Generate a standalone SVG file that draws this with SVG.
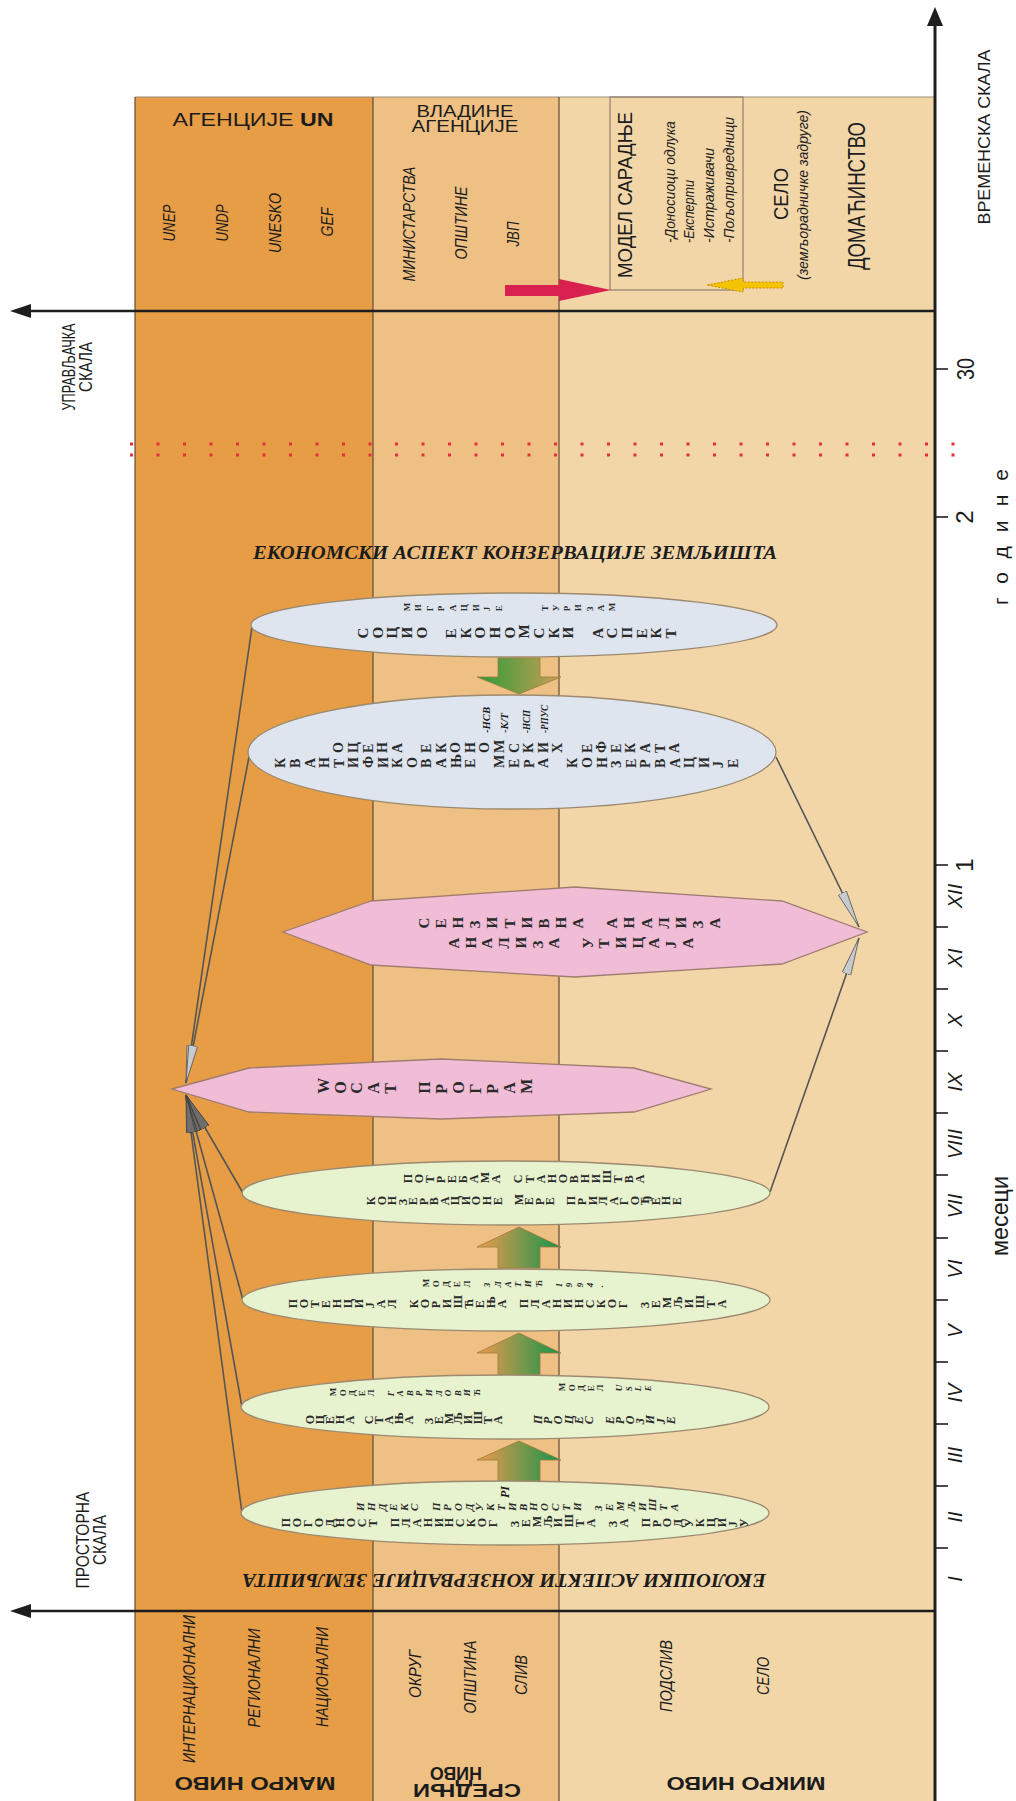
<svg xmlns="http://www.w3.org/2000/svg" width="1016" height="1801" viewBox="0 0 1016 1801">
<defs>
<style>
.s{font-family:"Liberation Sans",Arial,sans-serif;fill:#1c1c1c}
.i{font-style:italic}
.b{font-weight:bold}
.m{text-anchor:middle;dominant-baseline:central}
.st{text-anchor:start;dominant-baseline:central}
.sr{font-family:"Liberation Serif","Times New Roman",serif;fill:#1c1c1c}
.v{font-family:"Liberation Serif","Times New Roman",serif;font-weight:bold;fill:#2a2a2a}
.tk{stroke:#1e1e1e;stroke-width:1.6}
.bl{stroke:#5e4c38;stroke-width:1.2}
.eb{fill:#DEE5EE;stroke:#9C8A70;stroke-width:1.3}
.eg{fill:#E7F2CF;stroke:#9C8A70;stroke-width:1.3}
.pk{fill:#F1BDD6;stroke:#A07C70;stroke-width:1.3}
.con{stroke:#555;stroke-width:1.6;fill:none}
.rd{stroke:#E3303C;stroke-width:3;stroke-dasharray:3 23.5}
.up{fill:url(#gUp);stroke:#A07A3C;stroke-width:0.8}
.dn{fill:url(#gDn);stroke:#A07A3C;stroke-width:0.8}
</style>
<linearGradient id="gUp" x1="0" y1="0" x2="1" y2="0">
<stop offset="0" stop-color="#F09A4E"/><stop offset="1" stop-color="#12954A"/>
</linearGradient>
<linearGradient id="gDn" x1="0" y1="0" x2="1" y2="0">
<stop offset="0" stop-color="#2C9A3A"/><stop offset="1" stop-color="#C9A052"/>
</linearGradient>
<marker id="ahL" markerUnits="userSpaceOnUse" markerWidth="40" markerHeight="12" refX="38" refY="6" orient="auto">
<path d="M0,1.5 L38,6 L0,10.5 Z" fill="#C8CBCD" stroke="#5a5a5a" stroke-width="0.8"/>
</marker>
<marker id="ahD" markerUnits="userSpaceOnUse" markerWidth="40" markerHeight="12" refX="38" refY="6" orient="auto">
<path d="M0,1.5 L38,6 L0,10.5 Z" fill="#6e6e6e" stroke="#3c3c3c" stroke-width="0.8"/>
</marker>
</defs>

<rect width="1016" height="1801" fill="#ffffff"/>

<!-- level bands -->
<g id="bands">
<rect x="135" y="97" width="238" height="1704" fill="#E79D46"/>
<rect x="373" y="97" width="186" height="1704" fill="#EEC083"/>
<rect x="559" y="97" width="376" height="1704" fill="#F2D6A8"/>
<line x1="135" y1="97" x2="935" y2="97" stroke="#9a8a78" stroke-width="1"/>
<line x1="135" y1="97" x2="135" y2="1801" class="bl"/>
<line x1="373" y1="97" x2="373" y2="1801" class="bl"/>
<line x1="559" y1="97" x2="559" y2="1801" class="bl"/>
</g>

<!-- header labels -->
<g id="headers">
<text class="s" x="253" y="126" font-size="18" text-anchor="middle" textLength="161" lengthAdjust="spacingAndGlyphs">АГЕНЦИЈЕ <tspan class="b">UN</tspan></text>
<text class="s" x="465" y="117" font-size="16" text-anchor="middle" textLength="97" lengthAdjust="spacingAndGlyphs">ВЛАДИНЕ</text>
<text class="s" x="465" y="132" font-size="16" text-anchor="middle" textLength="107" lengthAdjust="spacingAndGlyphs">АГЕНЦИЈЕ</text>
<g class="s i" font-size="16">
<text class="m" transform="translate(169,223) rotate(-90)" textLength="37" lengthAdjust="spacingAndGlyphs">UNEP</text>
<text class="m" transform="translate(222,223) rotate(-90)" textLength="37" lengthAdjust="spacingAndGlyphs">UNDP</text>
<text class="m" transform="translate(275,223) rotate(-90)" textLength="60" lengthAdjust="spacingAndGlyphs">UNESKO</text>
<text class="m" transform="translate(327,222) rotate(-90)" textLength="29" lengthAdjust="spacingAndGlyphs">GEF</text>
<text class="m" transform="translate(409,224) rotate(-90)" textLength="115" lengthAdjust="spacingAndGlyphs">МИНИСТАРСТВА</text>
<text class="m" transform="translate(461,223) rotate(-90)" textLength="73" lengthAdjust="spacingAndGlyphs">ОПШТИНЕ</text>
<text class="m" transform="translate(513,234) rotate(-90)" textLength="25" lengthAdjust="spacingAndGlyphs">ЈВП</text>
</g>
</g>

<!-- cooperation model box -->
<g id="model">
<rect x="610" y="97" width="133" height="193" fill="none" stroke="#8f8372" stroke-width="1.2"/>
<text class="s m" font-size="21" transform="translate(624.5,195) rotate(-90)" textLength="166" lengthAdjust="spacingAndGlyphs">МОДЕЛ САРАДЊЕ</text>
<g class="s i" font-size="14">
<text class="st" transform="translate(670,243) rotate(-90)" textLength="122" lengthAdjust="spacingAndGlyphs">-Доносиоци одлука</text>
<text class="st" transform="translate(689,243) rotate(-90)" textLength="63" lengthAdjust="spacingAndGlyphs">-Експерти</text>
<text class="st" transform="translate(709,243) rotate(-90)" textLength="95" lengthAdjust="spacingAndGlyphs">-Истраживачи</text>
<text class="st" transform="translate(729,243) rotate(-90)" textLength="126" lengthAdjust="spacingAndGlyphs">-Пољопривредници</text>
</g>
<polygon points="505,285 559,285 559,279 611,290 559,301 559,296 505,296" fill="#D8214E"/>
<polygon points="707,285 743,278 743,282 783,282 783,288 743,288 743,292" fill="#F5C400" stroke="#C98E00" stroke-width="1" stroke-dasharray="2 1.5"/>
</g>

<g id="village">
<text class="s m" font-size="21" transform="translate(780,194) rotate(-90)" textLength="52" lengthAdjust="spacingAndGlyphs">СЕЛО</text>
<text class="s i m" font-size="14" transform="translate(803,195) rotate(-90)" textLength="170" lengthAdjust="spacingAndGlyphs">(земљорадничке задруге)</text>
</g>
<g id="household">
<text class="s m" font-size="24" transform="translate(856,196) rotate(-90)" textLength="148" lengthAdjust="spacingAndGlyphs">ДОМАЋИНСТВО</text>
</g>

<!-- scales -->
<g id="axes">
<line x1="28" y1="311" x2="935" y2="311" stroke="#1e1e1e" stroke-width="2.6"/>
<polygon points="10,311 31,304 31,318" fill="#1e1e1e"/>
<line x1="28" y1="1611" x2="935" y2="1611" stroke="#1e1e1e" stroke-width="2.6"/>
<polygon points="10,1611 31,1604 31,1618" fill="#1e1e1e"/>
<line x1="935" y1="1801" x2="935" y2="24" stroke="#1e1e1e" stroke-width="3"/>
<polygon points="935,7 927,26 943,26" fill="#1e1e1e"/>
<line x1="130" y1="444" x2="962" y2="444" class="rd"/>
<line x1="130" y1="455" x2="962" y2="455" class="rd"/>
<g>
<line x1="935" y1="369" x2="948" y2="369" class="tk"/>
<line x1="935" y1="517" x2="948" y2="517" class="tk"/>
<line x1="935" y1="865" x2="948" y2="865" class="tk"/>
<line x1="935" y1="927" x2="948" y2="927" class="tk"/>
<line x1="935" y1="989" x2="948" y2="989" class="tk"/>
<line x1="935" y1="1051" x2="948" y2="1051" class="tk"/>
<line x1="935" y1="1113" x2="948" y2="1113" class="tk"/>
<line x1="935" y1="1175" x2="948" y2="1175" class="tk"/>
<line x1="935" y1="1238" x2="948" y2="1238" class="tk"/>
<line x1="935" y1="1300" x2="948" y2="1300" class="tk"/>
<line x1="935" y1="1362" x2="948" y2="1362" class="tk"/>
<line x1="935" y1="1424" x2="948" y2="1424" class="tk"/>
<line x1="935" y1="1486" x2="948" y2="1486" class="tk"/>
<line x1="935" y1="1548" x2="948" y2="1548" class="tk"/>
</g>
<g class="s" font-size="24">
<text class="m" transform="translate(965,369) rotate(-90)" textLength="22" lengthAdjust="spacingAndGlyphs">30</text>
<text class="m" transform="translate(964,517) rotate(-90)">2</text>
<text class="m" transform="translate(964,865) rotate(-90)">1</text>
</g>
<g class="s i" font-size="20">
<text class="m" transform="translate(955,896) rotate(-90)">XII</text>
<text class="m" transform="translate(955,958) rotate(-90)">XI</text>
<text class="m" transform="translate(955,1020) rotate(-90)">X</text>
<text class="m" transform="translate(955,1082) rotate(-90)">IX</text>
<text class="m" transform="translate(955,1144) rotate(-90)">VIII</text>
<text class="m" transform="translate(955,1206) rotate(-90)">VII</text>
<text class="m" transform="translate(955,1269) rotate(-90)">VI</text>
<text class="m" transform="translate(955,1331) rotate(-90)">V</text>
<text class="m" transform="translate(955,1393) rotate(-90)">IV</text>
<text class="m" transform="translate(955,1455) rotate(-90)">III</text>
<text class="m" transform="translate(955,1517) rotate(-90)">II</text>
<text class="m" transform="translate(955,1579) rotate(-90)">I</text>
</g>
<text class="s m" font-size="17" transform="translate(984,137) rotate(-90)" textLength="175" lengthAdjust="spacingAndGlyphs">ВРЕМЕНСКА СКАЛА</text>
<text class="s m" font-size="21" transform="translate(1000,537) rotate(-90)" textLength="136" lengthAdjust="spacing">године</text>
<text class="s m" font-size="23" transform="translate(1000,1216) rotate(-90)" textLength="80" lengthAdjust="spacingAndGlyphs">месеци</text>
<g class="s" font-size="19">
<text class="m" transform="translate(68,367) rotate(-90)" textLength="87" lengthAdjust="spacingAndGlyphs">УПРАВЉАЧКА</text>
<text class="m" transform="translate(85,367) rotate(-90)" textLength="50" lengthAdjust="spacingAndGlyphs">СКАЛА</text>
<text class="m" transform="translate(82,1540) rotate(-90)" textLength="97" lengthAdjust="spacingAndGlyphs">ПРОСТОРНА</text>
<text class="m" transform="translate(99,1540) rotate(-90)" textLength="50" lengthAdjust="spacingAndGlyphs">СКАЛА</text>
</g>
</g>

<!-- spatial levels -->
<g id="levels">
<g class="s i" font-size="16">
<text class="m" transform="translate(189,1689) rotate(-90)" textLength="148" lengthAdjust="spacingAndGlyphs">ИНТЕРНАЦИОНАЛНИ</text>
<text class="m" transform="translate(254,1678) rotate(-90)" textLength="99" lengthAdjust="spacingAndGlyphs">РЕГИОНАЛНИ</text>
<text class="m" transform="translate(322,1677) rotate(-90)" textLength="100" lengthAdjust="spacingAndGlyphs">НАЦИОНАЛНИ</text>
<text class="m" transform="translate(415,1674) rotate(-90)" textLength="48" lengthAdjust="spacingAndGlyphs">ОКРУГ</text>
<text class="m" transform="translate(470,1677) rotate(-90)" textLength="73" lengthAdjust="spacingAndGlyphs">ОПШТИНА</text>
<text class="m" transform="translate(521,1675) rotate(-90)" textLength="40" lengthAdjust="spacingAndGlyphs">СЛИВ</text>
<text class="m" transform="translate(666,1676) rotate(-90)" textLength="72" lengthAdjust="spacingAndGlyphs">ПОДСЛИВ</text>
<text class="m" transform="translate(763,1676) rotate(-90)" textLength="38" lengthAdjust="spacingAndGlyphs">СЕЛО</text>
</g>
<g class="s b" font-size="19">
<text class="m" transform="translate(255,1783) rotate(180)" textLength="161" lengthAdjust="spacingAndGlyphs">МАКРО НИВО</text>
<text class="m" transform="translate(467,1790) rotate(180)" textLength="108" lengthAdjust="spacingAndGlyphs">СРЕДЊИ</text>
<text class="m" transform="translate(456,1773) rotate(180)" textLength="52" lengthAdjust="spacingAndGlyphs">НИВО</text>
<text class="m" transform="translate(746,1783) rotate(180)" textLength="159" lengthAdjust="spacingAndGlyphs">МИКРО НИВО</text>
</g>
</g>

<!-- aspect titles -->
<text class="sr b i" x="515" y="559" font-size="18" text-anchor="middle" textLength="524" lengthAdjust="spacingAndGlyphs">ЕКОНОМСКИ АСПЕКТ КОНЗЕРВАЦИЈЕ ЗЕМЉИШТА</text>
<text class="sr b i m" font-size="19" transform="translate(504,1580) rotate(180)" textLength="524" lengthAdjust="spacingAndGlyphs">ЕКОЛОШКИ АСПЕКТИ КОНЗЕРВАЦИЈЕ ЗЕМЉИШТА</text>

<!-- connectors -->
<g id="connectors">
<path class="con" d="M252,627 L186,1083" marker-end="url(#ahL)"/>
<path class="con" d="M249,757 L186,1083" marker-end="url(#ahL)"/>
<path class="con" d="M243,1193 L186,1095" marker-end="url(#ahD)"/>
<path class="con" d="M243,1300 L186,1095" marker-end="url(#ahD)"/>
<path class="con" d="M242,1407 L186,1095" marker-end="url(#ahD)"/>
<path class="con" d="M242,1513 L186,1095" marker-end="url(#ahD)"/>
<path class="con" d="M776,757 L859,927" marker-end="url(#ahL)"/>
<path class="con" d="M770,1192 L859,938" marker-end="url(#ahL)"/>
<polygon class="dn" points="498,658 540,658 540,677 561,677 519,694 477,677 498,677"/>
<polygon class="up" points="519,1227 561,1247 540,1247 540,1268 498,1268 498,1247 477,1247"/>
<polygon class="up" points="519,1333 561,1353 540,1353 540,1375 498,1375 498,1353 477,1353"/>
<polygon class="up" points="519,1441 561,1460 540,1460 540,1482 498,1482 498,1460 477,1460"/>
</g>

<!-- process nodes: letters are laid sideways, one slot per character -->
<g id="socio">
<ellipse class="eb" cx="514" cy="625" rx="263" ry="32"/>
<text class="v" font-size="9" rotate="-90" y="611.2" x="410 421.5 433 444.5 456 467.5 479 490.5 502">МИГРАЦИЈЕ</text>
<text class="v" font-size="9" rotate="-90" y="611.2" x="548 559.2 570.3 581.5 592.7 603.8 615">ТУРИЗАМ</text>
<text class="v" font-size="15" rotate="-90" y="638.4" x="368 382.7 397.3 412 426.7 441.3 456 470.7 485.3 500 514.7 529.3 544 558.7 573.3 588 602.7 617.3 632 646.7 661.3 676">СОЦИО ЕКОНОМСКИ АСПЕКТ</text>
</g>
<g id="economic">
<ellipse class="eb" cx="512" cy="752" rx="264" ry="57"/>
<g class="sr b i" font-size="11">
<text class="st" transform="translate(486,733) rotate(-90)" textLength="26" lengthAdjust="spacingAndGlyphs">-НСВ</text>
<text class="st" transform="translate(504,733) rotate(-90)" textLength="20" lengthAdjust="spacingAndGlyphs">-К/Т</text>
<text class="st" transform="translate(526,733) rotate(-90)" textLength="23" lengthAdjust="spacingAndGlyphs">-НСП</text>
<text class="st" transform="translate(544,733) rotate(-90)" textLength="28" lengthAdjust="spacingAndGlyphs">-РПУС</text>
</g>
<text class="v" font-size="14" rotate="-90" y="753" x="343.3 357.9 372.5 387.1 401.7 416.3 430.9 445.5 460.1 474.7 489.3 503.9 518.5 533.1 547.7 562.3 576.9 591.5 606.1 620.7 635.3 649.9 664.5 679.1">ОЦЕНА ЕКОНОМСКИХ ЕФЕКАТА</text>
<text class="v" font-size="14" rotate="-90" y="768" x="285.3 299.9 314.5 329.1 343.7 358.3 372.9 387.5 402.1 416.7 431.3 445.9 460.5 475.1 489.7 504.3 518.9 533.5 548.1 562.7 577.3 591.9 606.5 621.1 635.7 650.3 664.9 679.5 694.1 708.7 723.3 737.9">КВАНТИФИКОВАЊЕ МЕРА КОНЗЕРВАЦИЈЕ</text>
</g>
<g id="sensitivity">
<polygon class="pk" points="283,932 371,901 575,887 782,901 867,932 782,964 575,977 371,965"/>
<text class="v" font-size="15" rotate="-90" y="928.4" x="429 446.1 463.2 480.4 497.5 514.6 531.7 548.8 566 583.1 600.2 617.3 634.4 651.6 668.7 685.8 702.9 720">СЕНЗИТИВНА АНАЛИЗА</text>
<text class="v" font-size="15" rotate="-90" y="948.4" x="459 475.7 492.4 509.1 525.8 542.6 559.3 576 592.7 609.4 626.1 642.8 659.5 676.2 693">АНАЛИЗА УТИЦАЈА</text>
</g>
<g id="wocat">
<polygon class="pk" points="172,1089 249,1068 441,1059 634,1068 711,1089 634,1112 441,1119 249,1112"/>
<text class="v" font-size="16" rotate="-90" y="1093.8" x="328.6 345.6 362.5 379.5 396.4 413.4 430.3 447.3 464.2 481.2 498.1 515.1 532">WOCAT ПРОГРАМ</text>
</g>
<g id="needs">
<ellipse class="eg" cx="506" cy="1193" rx="264" ry="32"/>
<text class="v" font-size="12" rotate="-90" y="1183.3" x="412 423.1 434.1 445.2 456.2 467.3 478.3 489.4 500.4 511.5 522.5 533.6 544.6 555.7 566.7 577.8 588.8 599.9 610.9 622 633 644">ПОТРЕБАМА СТАНОВНИШТВА</text>
<text class="v" font-size="12" rotate="-90" y="1205.3" x="375 385.6 396.1 406.7 417.2 427.8 438.3 448.9 459.4 470 480.5 491.1 501.6 512.2 522.7 533.3 543.8 554.4 564.9 575.5 586 596.6 607.1 617.7 628.2 638.8 649.3 659.9 670.4 681">КОНЗЕРВАЦИОНЕ МЕРЕ ПРИЛАГОЂЕНЕ</text>
</g>
<g id="potential">
<ellipse class="eg" cx="506" cy="1300" rx="264" ry="31"/>
<text class="v" font-size="9" rotate="-90" y="1287.2" x="429 439.2 449.5 459.7 470 480.2 490.4 500.7 510.9 521.2 531.4 541.6 551.9 562.1 572.4 582.6 592.8 603.1">МОДЕЛ <tspan font-style="italic">ЗЛАТИЋ 1994.</tspan></text>
<text class="v" font-size="12" rotate="-90" y="1308.3" x="297 308 319 330 341 352 363 374 385 396 407 418 429 440 451 462 473 484 495 506 517 528 539 550 561 572 583 594 605 616 627 638 649 660 671 682 693 704 715 726">ПОТЕНЦИЈАЛ КОРИШЋЕЊА ПЛАНИНСКОГ ЗЕМЉИШТА</text>
</g>
<g id="state">
<ellipse class="eg" cx="505" cy="1407" rx="264" ry="32"/>
<text class="v" font-size="9" rotate="-90" y="1396.2" x="336 345.6 355.2 364.8 374.4 384 393.6 403.2 412.8 422.4 432 441.6 451.2 460.8 470.4 480">МОДЕЛ <tspan font-style="italic">ГАВРИЛОВИЋ</tspan></text>
<text class="v" font-size="9" rotate="-90" y="1391.2" x="565 574.6 584.1 593.7 603.2 612.8 622.4 631.9 641.5 651">МОДЕЛ <tspan font-style="italic">USLE</tspan></text>
<text class="v" font-size="12" rotate="-90" y="1424.3" x="314 323.9 333.8 343.7 353.6 363.5 373.4 383.3 393.2 403.1 413 422.9 432.8 442.7 452.6 462.5 472.4 482.3 492.2 502.1">ОЦЕНА СТАЊА ЗЕМЉИШТА</text>
<text class="v" font-size="12" font-style="italic" rotate="-90" y="1424.3" x="542 552.2 562.5 572.7 582.9 593.2 603.4 613.6 623.8 634.1 644.3 654.5 664.8 675">ПРОЦЕС ЕРОЗИЈЕ</text>
</g>
<g id="suitability">
<ellipse class="eg" cx="505" cy="1513" rx="264" ry="32"/>
<text class="sr b i m" font-size="12" transform="translate(505,1492) rotate(-90)">PI</text>
<text class="v" font-size="11" font-style="italic" rotate="-90" y="1511" x="364.3 375.1 385.9 396.8 407.6 418.4 429.2 440 450.9 461.7 472.5 483.3 494.1 505 515.8 526.6 537.4 548.2 559.1 569.9 580.7 591.5 602.3 613.2 624 634.8 645.6 656.4 667.3 678.1">ИНДЕКС ПРОДУКТИВНОСТИ ЗЕМЉИШТА</text>
<text class="v" font-size="12" rotate="-90" y="1527.3" x="290 300.9 311.8 322.7 333.6 344.5 355.4 366.3 377.2 388.1 399 409.9 420.8 431.7 442.6 453.5 464.4 475.3 486.2 497.1 508 518.9 529.8 540.7 551.6 562.5 573.4 584.3 595.2 606.1 617 627.9 638.8 649.7 660.6 671.5 682.4 693.3 704.2 715.1 726 736.9 747.8">ПОГОДНОСТ ПЛАНИНСКОГ ЗЕМЉИШТА ЗА ПРОДУКЦИЈУ</text>
</g>
</svg>
